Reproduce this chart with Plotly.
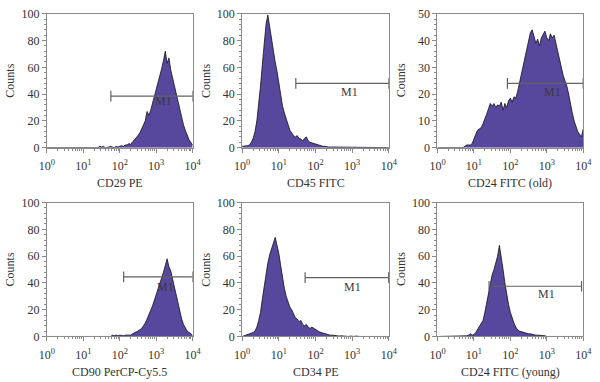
import plotly.graph_objects as go
import numpy as np

# ---------------- data ----------------
# channel positions: log10 of fluorescence intensity, 0.00 .. 4.00 (step 0.05)
log_channels = [round(i * 0.05, 2) for i in range(81)]

titles = ["CD29 PE", "CD45 FITC", "CD24 FITC (old)",
          "CD90 PerCP-Cy5.5", "CD34 PE", "CD24 FITC (young)"]

cd29_pe = [0]*28 + [0, 1, 0.5, 1, 0, 0, 0.5, 1, 0.5, 0, 1, 0.5, 1, 1.5, 1, 2, 2, 3, 2.5,
                    4, 6, 7, 9, 11, 14, 17, 20, 27, 24, 28, 33, 38, 42, 48, 54, 59, 65, 72,
                    63, 67, 58, 52, 46, 40, 33, 27, 22, 17, 13, 9, 6, 4, 2]

cd45_fitc = [1, 1, 1, 1.5, 2, 4, 7, 12, 20, 32, 46, 62, 80, 92, 99, 90, 80, 72, 64, 57,
             48, 39, 31, 26, 22, 17, 13, 11, 9, 8, 9, 7, 6.5, 5, 7, 8, 5, 4, 3.5, 3,
             2.5, 2, 2, 1.5, 1, 1, 0.5, 0.5, 0.5, 0.5,
             0.3, 0.3, 0, 0.3, 0, 0.3, 0, 0, 0.3, 0, 0, 0.5, 0, 0, 0, 0.3, 0, 0, 0, 0.3,
             0, 0, 0, 0, 0.3, 0, 0, 0, 0, 0.3, 0]

cd24_fitc_old = [0]*15 + [0.5, 1, 1, 1, 1.5, 3.5, 5, 6.5, 7, 7.5, 9, 10.5, 12.5, 14.5, 16.5,
                          15.5, 16.5, 15, 16, 15.5, 17, 14, 16.5, 15, 17.5, 18.5, 17, 19, 18.5,
                          21, 24, 27, 30.5, 33, 36, 40, 43, 44, 41, 39, 40.5, 38, 41, 42, 43.5,
                          41, 40, 42.5, 41, 42, 39, 35, 32, 29, 27, 25, 23, 20, 16, 13, 10, 8,
                          6, 5, 4, 7]

cd90_percp = [0]*34 + [0.5, 0, 1, 0.5, 1, 0.5, 1, 0.5, 0.5, 1, 1, 1.5, 1, 2, 2.5, 3, 4, 5, 6,
                       8, 10, 13, 16, 19, 23, 27, 31, 35, 40, 44, 48, 53, 58, 52, 49, 43, 37,
                       30, 24, 18, 13, 9, 6, 4, 3, 2, 1]

cd34_pe = [0, 0.5, 1, 1, 1.5, 2, 3, 4, 7, 12, 18, 28, 38, 47, 55, 61, 66, 70, 74, 68, 62,
           53, 44, 36, 30, 26, 22, 20, 17, 14, 13, 11, 12, 9, 8, 9, 7, 6, 7, 6, 5, 4, 3.5,
           3, 2.5, 2, 2, 1.5, 1, 1, 0.8,
           0.5, 0.5, 0.3, 0.5, 0.3, 0, 0.3, 0, 0.3, 0, 0, 0.3, 0, 0, 0, 0, 0.3, 0, 0, 0,
           0, 0, 0.3, 0, 0, 0, 0, 0, 0, 0]

cd24_fitc_young = [0]*9 + [0.5, 0, 0, 0, 0, 0, 0, 0.5, 1, 2, 1, 1.5, 3, 5, 7, 9, 12, 18, 25,
                           32, 40, 46, 50, 55, 60, 68, 60, 50, 40, 31, 24, 18, 13, 10, 7, 5, 4,
                           3.5, 3, 3, 2.5, 2, 2, 1.5, 1.5, 1, 1, 1, 0.5, 0.5, 0.5] + \
                  [0, 0, 0, 0, 0.5, 0, 0, 0, 0.5, 0, 0, 0, 0, 0, 0, 0, 0, 0, 0, 0, 0]

series = [cd29_pe, cd45_fitc, cd24_fitc_old, cd90_percp, cd34_pe, cd24_fitc_young]
y_max = [100, 100, 50, 100, 100, 100]

# M1 gates (intensity values) and counts level
gate_start = [57, 29, 83, 128, 52, 26]
gate_end = [10000, 10000, 10000, 10000, 9800, 9000]
gate_level = [38.5, 48, 24, 44.5, 44, 37.5]
gate_label_x = [1600, 870, 1480, 1800, 1050, 980]
gate_label_y = [34.5, 41.5, 20.8, 37, 37, 31.4]

x_tick_vals = [1, 10, 100, 1000, 10000]
x_tick_text = ["10<sup>0</sup>", "10<sup>1</sup>", "10<sup>2</sup>", "10<sup>3</sup>", "10<sup>4</sup>"]

# ---------------- figure ----------------
W, H = 600, 382
FONT = "Liberation Serif, serif"
FILL = "#57489e"
AXC = "#8a8a8a"
TXT = "#333333"

x_dom_px = [(40, 190), (241, 392), (442, 592)]
y_dom_px = [(7, 146), (203, 342)]

fig = go.Figure()
minor_x = [m * 10**k for k in range(4) for m in range(2, 10)]

for i in range(6):
    row, col = divmod(i, 3)
    ax = "" if i == 0 else str(i + 1)
    xs = [10**v for v in log_channels]
    fig.add_trace(go.Scatter(
        x=xs, y=series[i], mode="lines", fill="tozeroy",
        fillcolor=FILL, line=dict(color="#111111", width=0.8),
        xaxis="x" + ax, yaxis="y" + ax, showlegend=False, hoverinfo="skip"))
    cap = y_max[i] * 0.04
    g0, g1, gy = gate_start[i], gate_end[i], gate_level[i]
    fig.add_trace(go.Scatter(
        x=[g0, g1, None, g0, g0, None, g1, g1],
        y=[gy, gy, None, gy - cap, gy + cap, None, gy - cap, gy + cap],
        mode="lines", line=dict(color="#626262", width=1.2),
        xaxis="x" + ax, yaxis="y" + ax, showlegend=False, hoverinfo="skip",
        cliponaxis=False))
    fig.add_annotation(x=np.log10(gate_label_x[i]), y=gate_label_y[i],
                       xref="x" + ax, yref="y" + ax, text="M1", showarrow=False,
                       xanchor="center", yanchor="middle",
                       font=dict(family=FONT, size=12, color="#3a3a3a"))

    x0, x1 = x_dom_px[col]
    yt, yb = y_dom_px[row]
    xa = dict(domain=[x0 / W, x1 / W], type="log", range=[0, 4],
              tickvals=x_tick_vals, ticktext=x_tick_text,
              ticks="outside", ticklen=4, tickcolor=AXC, tickwidth=1,
              ticklabelstandoff=3,
              minor=dict(tickvals=minor_x, ticks="outside", ticklen=2, tickcolor=AXC),
              showline=True, linecolor=AXC, linewidth=1, mirror=True,
              showgrid=False, zeroline=False,
              tickfont=dict(family=FONT, size=12, color=TXT),
              anchor="y" + ax)
    ymx = y_max[i]
    ya = dict(domain=[1 - yb / H, 1 - yt / H], range=[0, ymx],
              tickmode="linear", tick0=0, dtick=ymx / 5,
              ticks="outside", ticklen=4, tickcolor=AXC,
              minor=dict(tickmode="linear", tick0=0, dtick=ymx / 25, ticks="outside",
                         ticklen=2, tickcolor=AXC),
              showline=True, linecolor=AXC, linewidth=1, mirror=True,
              showgrid=False, zeroline=False,
              tickfont=dict(family=FONT, size=12, color=TXT),
              anchor="x" + ax)
    fig.update_layout(**{"xaxis" + ax: xa, "yaxis" + ax: ya})

    # axis titles
    fig.add_annotation(x=(x0 + x1) / 2 / W, y=1 - (yb + 37) / H, xref="paper", yref="paper",
                       xanchor="center", yanchor="middle",
                       text=titles[i], showarrow=False,
                       font=dict(family=FONT, size=12, color=TXT))
    fig.add_annotation(x=(x0 - 38) / W, y=1 - (yt + yb) / 2 / H, xref="paper", yref="paper",
                       xanchor="center", yanchor="middle",
                       text="Counts", textangle=-90, showarrow=False,
                       font=dict(family=FONT, size=12, color=TXT))

fig.update_layout(width=W, height=H, margin=dict(l=0, r=0, t=0, b=0),
                  paper_bgcolor="white", plot_bgcolor="white",
                  font=dict(family=FONT))
fig.write_html("out.html", config={"displayModeBar": False},
               post_script="document.body.style.margin='0px';document.body.style.overflow='hidden';")
